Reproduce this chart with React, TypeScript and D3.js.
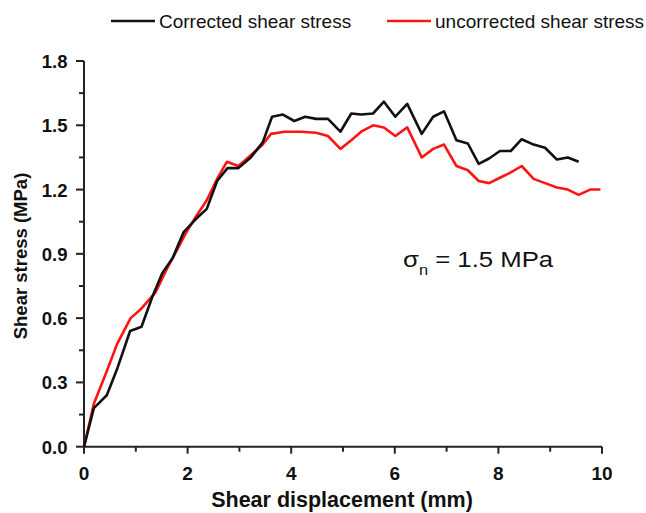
import React from "react";
import * as d3 from "d3";

const corrX = [0, 0.19, 0.44, 0.65, 0.89, 1.11, 1.32, 1.51, 1.71, 1.92, 2.15, 2.37, 2.57, 2.77, 2.98, 3.22, 3.45, 3.63, 3.84, 4.06, 4.27, 4.48, 4.71, 4.95, 5.16, 5.35, 5.58, 5.79, 6.01, 6.24, 6.52, 6.74, 6.95, 7.19, 7.41, 7.62, 7.82, 8.03, 8.24, 8.45, 8.68, 8.9, 9.13, 9.34, 9.55];
const corrY = [0, 0.18, 0.24, 0.37, 0.54, 0.56, 0.7, 0.81, 0.88, 1.0, 1.06, 1.11, 1.24, 1.3, 1.3, 1.35, 1.42, 1.54, 1.55, 1.52, 1.54, 1.53, 1.53, 1.47, 1.555, 1.55, 1.555, 1.61, 1.54, 1.6, 1.46, 1.54, 1.565, 1.43, 1.415, 1.32, 1.345, 1.38, 1.38, 1.435, 1.41, 1.395, 1.34, 1.35, 1.33];

const uncX = [0, 0.19, 0.42, 0.64, 0.9, 1.09, 1.38, 1.6, 1.8, 1.95, 2.15, 2.37, 2.57, 2.76, 2.98, 3.22, 3.45, 3.61, 3.87, 4.2, 4.48, 4.71, 4.95, 5.16, 5.35, 5.58, 5.79, 6.01, 6.24, 6.52, 6.74, 6.95, 7.19, 7.41, 7.62, 7.82, 8.03, 8.24, 8.45, 8.68, 8.9, 9.13, 9.34, 9.55, 9.77, 9.97];
const uncY = [0, 0.2, 0.34, 0.48, 0.6, 0.64, 0.72, 0.83, 0.92, 0.99, 1.07, 1.15, 1.25, 1.33, 1.31, 1.36, 1.41, 1.46, 1.47, 1.47, 1.465, 1.45, 1.39, 1.43, 1.47, 1.5, 1.49, 1.45, 1.49, 1.35, 1.39, 1.41, 1.31, 1.29, 1.24, 1.23, 1.255, 1.28, 1.31, 1.25, 1.23, 1.21, 1.2, 1.175, 1.2, 1.2];

const xMajor = [0, 2, 4, 6, 8, 10];
const xMinor = [1, 3, 5, 7, 9];
const yMajor = [0, 0.3, 0.6, 0.9, 1.2, 1.5, 1.8];
const yMinor = [0.15, 0.45, 0.75, 1.05, 1.35, 1.65];

const seriesNames = ["Corrected shear stress", "uncorrected shear stress"];
const seriesColors = ["#111111", "#ff1414"];

export default function App() {
  const W = 646, H = 513;
  const x = d3.scaleLinear().domain([0, 10]).range([84, 602]);
  const y = d3.scaleLinear().domain([0, 1.8]).range([446.7, 61]);
  const line = d3.line<[number, number]>().x(d => x(d[0])).y(d => y(d[1]));
  const corr = corrX.map((v, i) => [v, corrY[i]] as [number, number]);
  const unc = uncX.map((v, i) => [v, uncY[i]] as [number, number]);
  const font = "'Liberation Sans', Arial, sans-serif";
  return (
    <svg width={W} height={H} style={{ position: "absolute", left: 0, top: 0, background: "#fff" }} fontFamily={font}>
      <rect width={W} height={H} fill="#fff" />
      {/* legend */}
      <line x1={111} x2={155} y1={21} y2={21} stroke={seriesColors[0]} strokeWidth={2.6} />
      <text x={159} y={28} fontSize={19} fill="#111">{seriesNames[0]}</text>
      <line x1={387} x2={431} y1={21} y2={21} stroke={seriesColors[1]} strokeWidth={2.6} />
      <text x={435} y={28} fontSize={19} fill="#111">{seriesNames[1]}</text>

      {/* axes */}
      <line x1={x(0)} x2={x(10)} y1={y(0)} y2={y(0)} stroke="#222" strokeWidth={2} />
      <line x1={x(0)} x2={x(0)} y1={y(0) + 1} y2={y(1.8)} stroke="#222" strokeWidth={2} />
      {xMajor.map(v => (
        <g key={"xm" + v}>
          <line x1={x(v)} x2={x(v)} y1={y(0)} y2={y(0) + 7} stroke="#222" strokeWidth={2} />
          <text x={x(v)} y={480} textAnchor="middle" fontSize={19} fontWeight="bold" fill="#111">{v}</text>
        </g>
      ))}
      {xMinor.map(v => (
        <line key={"xn" + v} x1={x(v)} x2={x(v)} y1={y(0)} y2={y(0) + 5} stroke="#222" strokeWidth={2} />
      ))}
      {yMajor.map(v => (
        <g key={"ym" + v}>
          <line x1={x(0) - 8} x2={x(0)} y1={y(v)} y2={y(v)} stroke="#222" strokeWidth={2} />
          <text x={67.5} y={y(v) + 7} textAnchor="end" fontSize={18.5} fontWeight="bold" fill="#111">{v.toFixed(1)}</text>
        </g>
      ))}
      {yMinor.map(v => (
        <line key={"yn" + v} x1={x(0) - 5} x2={x(0)} y1={y(v)} y2={y(v)} stroke="#222" strokeWidth={2} />
      ))}
      <text x={342} y={507} textAnchor="middle" fontSize={21.5} fontWeight="bold" fill="#111">Shear displacement (mm)</text>
      <text transform={`translate(27,256) rotate(-90)`} textAnchor="middle" fontSize={18.5} fontWeight="bold" fill="#111">Shear stress (MPa)</text>

      {/* series */}
      <path d={line(unc) || ""} fill="none" stroke={seriesColors[1]} strokeWidth={2.6} strokeLinejoin="round" />
      <path d={line(corr) || ""} fill="none" stroke={seriesColors[0]} strokeWidth={2.6} strokeLinejoin="round" />

      {/* annotation */}
      <g transform="translate(403,267) scale(1.17,1)">
        <text x={0} y={0} fontSize={22} fill="#111">
          σ<tspan dy={8} fontSize={14}>n</tspan><tspan dy={-8}> = 1.5 MPa</tspan>
        </text>
      </g>
    </svg>
  );
}
